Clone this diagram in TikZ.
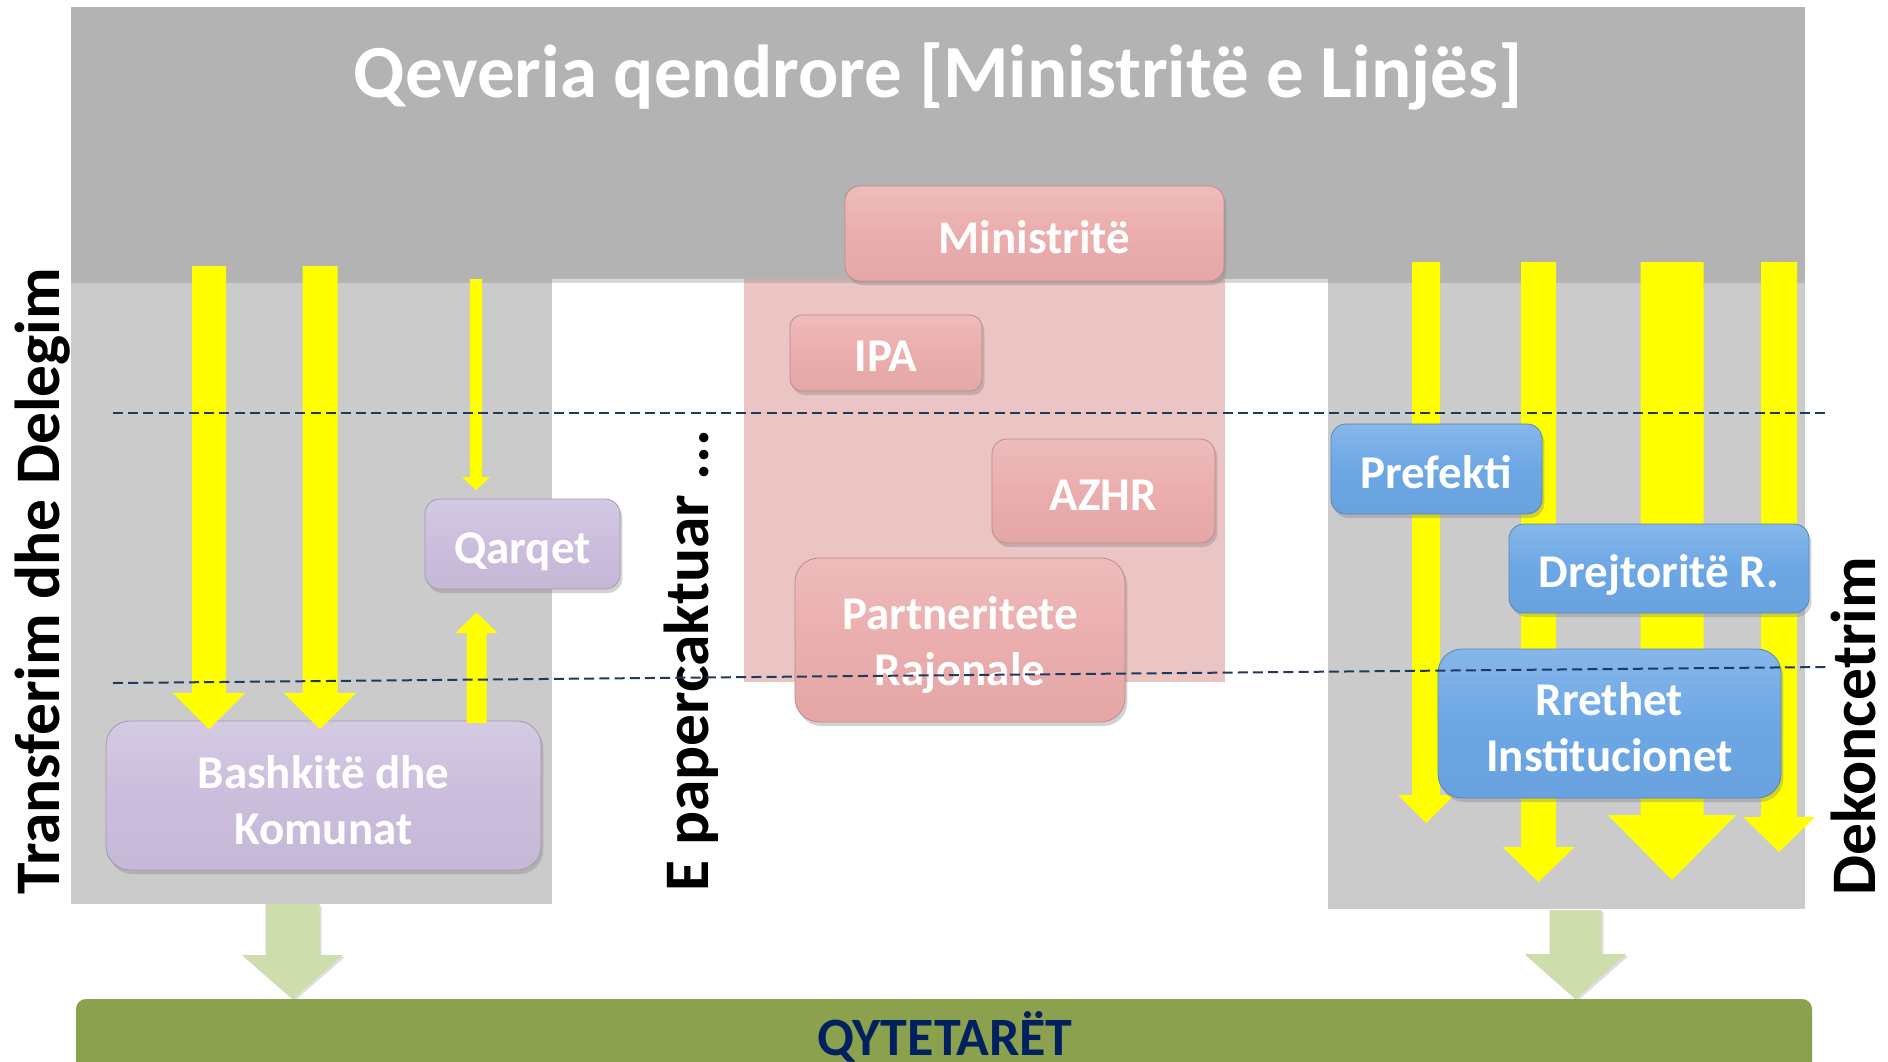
\documentclass[tikz,border=0pt]{standalone}
\usepackage{fontspec}
\setmainfont{Carlito}
\usetikzlibrary{shadows}
\definecolor{bandgray}{HTML}{B3B3B3}
\definecolor{lowgray}{HTML}{CBCBCB}
\definecolor{pinkbg}{HTML}{EBC4C4}
\definecolor{pinkbox}{HTML}{EBADAD}
\definecolor{lavbox}{HTML}{CBBEDD}
\definecolor{bluebox}{HTML}{6CA7E5}
\definecolor{arrowyellow}{HTML}{FFFF00}
\definecolor{lightolive}{HTML}{CDDDAC}
\definecolor{olivebar}{HTML}{8BA14E}
\definecolor{navytext}{HTML}{002060}
\definecolor{dashnavy}{HTML}{1F3A5F}
% #1 style, #2 x centre, #3 y start, #4 y head base, #5 y tip, #6 shaft half width, #7 head half width
\newcommand\yblockarrow[7]{%
  \fill[#1] (#2-#6,#3) -- (#2-#6,#4) -- (#2-#7,#4) -- (#2,#5) -- (#2+#7,#4) -- (#2+#6,#4) -- (#2+#6,#3) -- cycle;}
\begin{document}
\begin{tikzpicture}[x=0.5pt,y=-0.5pt,
  box/.style={draw=#1!80!black, line width=0.4pt, rounded corners=7.5pt, inner sep=0pt,
    top color=#1!82!white, bottom color=#1!97!black, middle color=#1,
    drop shadow={opacity=0.35, shadow xshift=1.2pt, shadow yshift=-2pt}},
  boxtext/.style={align=center, text=white, inner sep=0pt, font=\fontsize{23.5}{28}\selectfont\bfseries},
  sidelabel/.style={rotate=90, anchor=base, font=\fontsize{31.75}{36}\selectfont\bfseries, text=black},
  dashline/.style={dashnavy, line width=1pt, dash pattern=on 5pt off 2.6pt},
  yarrow/.style={arrowyellow},
  garrow/.style={lightolive, drop shadow={opacity=0.25, shadow xshift=1pt, shadow yshift=-1pt}}]
\useasboundingbox (0,0) rectangle (1888,1061);
\clip (0,0) rectangle (1888,1061);
\fill[white] (0,0) rectangle (1888,1061);
% lower panels
\fill[lowgray] (71,279) rectangle (552,904);
\fill[lowgray] (1328,279) rectangle (1805,909);
\fill[pinkbg] (744,279) rectangle (1225,682);
% top band
\fill[bandgray, drop shadow={opacity=0.3, shadow xshift=0pt, shadow yshift=-2pt}] (71,7) rectangle (1805,279);
\node[anchor=base, text=white, font=\fontsize{37.5}{44}\selectfont\bfseries] (title) at (938,97) {Qeveria qendrore [Ministritë e Linjës]};
% left column
\node[box=lavbox, rounded corners=12pt, minimum width=217.5pt, minimum height=74.5pt] (bash) at (323.5,795.5) {};
\node[boxtext] (basht) at ([yshift=-2.5pt]bash.center) {Bashkitë dhe\\Komunat};
\node[box=lavbox, minimum width=97.5pt, minimum height=45pt] (qarq) at (522.5,544) {};
\node[boxtext] (qarqt) at ([yshift=-4pt]qarq.center) {Qarqet};
\yblockarrow{yarrow}{209}{266}{693}{729}{17}{36}
\yblockarrow{yarrow}{320}{266}{693}{729}{17.5}{36}
\yblockarrow{yarrow}{476}{279}{477}{490}{6.2}{14}
\yblockarrow{yarrow}{476.5}{723}{633}{612.5}{10}{21}
% middle column
\node[box=pinkbox, minimum width=189.5pt, minimum height=47.5pt] (mini) at (1034.5,233.5) {};
\node[boxtext] (minit) at ([yshift=-2pt]mini.center) {Ministritë};
\node[box=pinkbox, rounded corners=6pt, minimum width=96pt, minimum height=38pt] (ipa) at (886,353) {};
\node[boxtext] (ipat) at ([yshift=-1.5pt]ipa.center) {IPA};
\node[box=pinkbox, minimum width=111.5pt, minimum height=52pt] (azhr) at (1103.5,491) {};
\node[boxtext] (azhrt) at ([yshift=-2pt]azhr.center) {AZHR};
\node[box=pinkbox, rounded corners=12pt, minimum width=165pt, minimum height=82pt] (part) at (960,640) {};
\node[boxtext] (partt) at ([yshift=-2.5pt]part.center) {Partneritete\\Rajonale};
% right column
\yblockarrow{yarrow}{1426}{262}{795}{823}{14}{28}
\yblockarrow{yarrow}{1538.5}{262}{847}{882}{17.5}{36}
\yblockarrow{yarrow}{1672}{262}{815}{880}{31.5}{64}
\yblockarrow{yarrow}{1779}{262}{817}{852}{18}{36}
\node[box=bluebox, minimum width=105.5pt, minimum height=45pt] (pref) at (1436.5,469) {};
\node[boxtext] (preft) at ([yshift=-1.5pt]pref.center) {Prefekti};
\node[box=bluebox, minimum width=150pt, minimum height=44.5pt] (drej) at (1659,568.5) {};
\node[boxtext] (drejt) at ([yshift=-3pt]drej.center) {Drejtoritë R.};
\node[box=bluebox, rounded corners=12pt, minimum width=171.5pt, minimum height=74.5pt] (rreth) at (1609.5,723.5) {};
\node[boxtext] (rretht) at ([yshift=-2pt]rreth.center) {Rrethet\\Institucionet};
% citizens
\yblockarrow{garrow}{292.5}{904}{955}{999}{27}{50.5}
\yblockarrow{garrow}{1575.5}{910}{954}{999}{26}{51}
\fill[olivebar, rounded corners=5pt] (76,999) rectangle (1812,1100);
\node[anchor=base, text=navytext, font=\fontsize{27}{32}\selectfont\bfseries] (cit) at (945,1055) {QYTETARËT};
% side labels
\node[sidelabel] (tdl) at (59,581) {Transferim dhe Delegim};
\node[sidelabel] (epc) at (708,660.5) {E papercaktuar ...};
\node[sidelabel] (dek) at (1875,726.5) {Dekoncetrim};
% dashed level lines
\coordinate (d1a) at (113,413); \coordinate (d1b) at (1825,413);
\coordinate (d2a) at (113,683); \coordinate (d2b) at (1826,667);
\draw[dashline] (d1a) -- (d1b);
\draw[dashline] (d2a) -- (d2b);
\end{tikzpicture}
\end{document}
